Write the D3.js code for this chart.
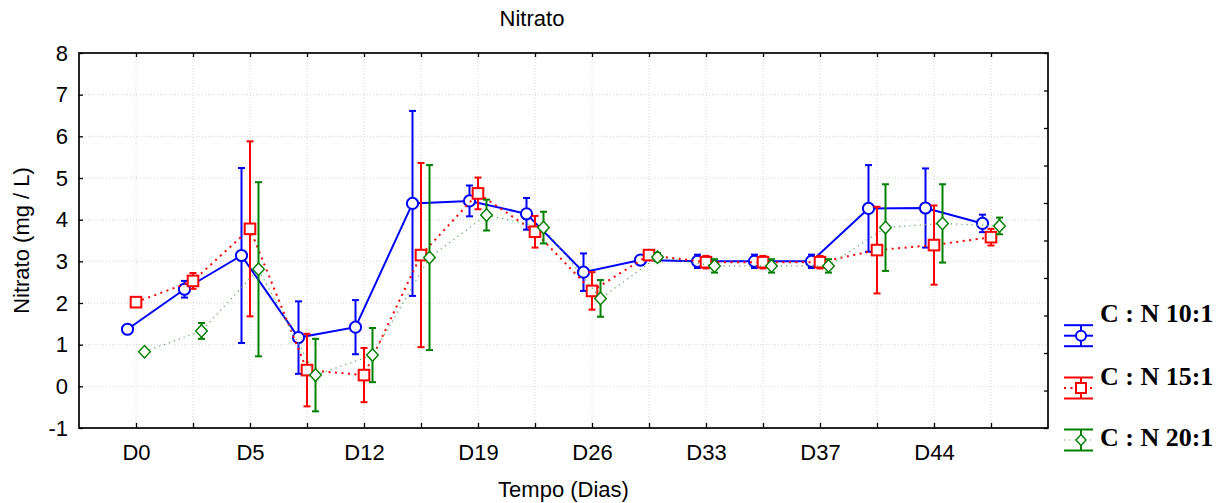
<!DOCTYPE html>
<html>
<head>
<meta charset="utf-8">
<script src="https://cdn.jsdelivr.net/npm/d3@7"></script>
<style>
  html, body { margin: 0; padding: 0; background: #fff; }
  svg { display: block; }
  text { font-family: "Liberation Sans", Arial, sans-serif; fill: #000; }
</style>
</head>
<body>
<svg id="chart" width="1229" height="503"></svg>
<script>
// Sampling days (16 points; every other one is labelled)
const dayLabels = ["D0", "", "D5", "", "D12", "", "D19", "", "D26", "", "D33", "", "D37", "", "D44", ""];

// Mean nitrate (mg / L) per treatment
const cn10 = [1.37, 2.33, 3.14, 1.17, 1.42, 4.39, 4.45, 4.14, 2.74, 3.03, 3.00, 3.00, 3.00, 4.27, 4.28, 3.91];
const cn15 = [2.02, 2.53, 3.78, 0.39, 0.27, 3.15, 4.63, 3.71, 2.29, 3.15, 2.98, 2.98, 2.98, 3.27, 3.39, 3.58];
const cn20 = [0.83, 1.33, 2.81, 0.27, 0.75, 3.09, 4.11, 3.81, 2.11, 3.10, 2.89, 2.89, 2.89, 3.81, 3.91, 3.85];

// Error bar half-widths
const cn10Err = [0, 0.20, 2.10, 0.87, 0.65, 2.22, 0.37, 0.38, 0.45, 0.10, 0.16, 0.16, 0.16, 1.04, 0.95, 0.21];
const cn15Err = [0, 0.19, 2.10, 0.87, 0.65, 2.21, 0.38, 0.38, 0.45, 0.10, 0.15, 0.15, 0.15, 1.04, 0.95, 0.20];
const cn20Err = [0, 0.19, 2.09, 0.87, 0.65, 2.22, 0.37, 0.38, 0.44, 0.10, 0.16, 0.16, 0.16, 1.04, 0.94, 0.20];

const yTicks = [-1, 0, 1, 2, 3, 4, 5, 6, 7, 8];

const series = [
  { name: "C : N 10:1", values: cn10, err: cn10Err, color: "#0000ff", shape: "circle", dx: -8.5,
    lineWidth: 2, dash: null, lineColor: "#0000ff" },
  { name: "C : N 15:1", values: cn15, err: cn15Err, color: "#ff0000", shape: "square", dx: 0,
    lineWidth: 2, dash: "2,4.5", lineColor: "#ff0000" },
  { name: "C : N 20:1", values: cn20, err: cn20Err, color: "#008000", shape: "diamond", dx: 8.5,
    lineWidth: 1.2, dash: "1.2,4", lineColor: "#55aa55" }
];

const FONT = '"Liberation Sans", Arial, sans-serif';
const FS = "22px";

const svg = d3.select("#chart");
const L = 79, R = 1048, T = 53, B = 428;

const x = d3.scaleLinear().domain([0, dayLabels.length + 1]).range([L, R]);
const y = d3.scaleLinear().domain([-1, 8]).range([B, T]);
const idx = d3.range(dayLabels.length);

// Grid
const grid = svg.append("g").attr("class", "grid");
grid.selectAll("line.gy").data(yTicks.filter(v => v > -1 && v < 8)).join("line")
  .attr("x1", L).attr("x2", R).attr("y1", d => y(d)).attr("y2", d => y(d))
  .attr("stroke", "#d4d4d4").attr("stroke-width", 1).attr("stroke-dasharray", "1,2");
grid.selectAll("line.gx").data(idx).join("line")
  .attr("x1", d => x(d + 1)).attr("x2", d => x(d + 1)).attr("y1", T).attr("y2", B)
  .attr("stroke", "#d4d4d4").attr("stroke-width", 1).attr("stroke-dasharray", "1,2");

// Axes (ticks point inward)
const xAxis = d3.axisBottom(x).tickValues(idx.map(i => i + 1))
  .tickFormat(d => dayLabels[d - 1]).tickSize(-5).tickPadding(16.5);
const gx = svg.append("g").attr("transform", `translate(0,${B})`).call(xAxis);
gx.select(".domain").remove();
gx.selectAll("text").style("font-size", FS).style("font-family", FONT);
gx.selectAll("line").attr("stroke", "#000").attr("stroke-width", 1.3);

const xTop = d3.axisTop(x).tickValues(idx.map(i => i + 1)).tickFormat("").tickSize(-4);
const gxt = svg.append("g").attr("transform", `translate(0,${T})`).call(xTop);
gxt.select(".domain").remove();
gxt.selectAll("line").attr("stroke", "#000").attr("stroke-width", 1.3);

const yAxis = d3.axisLeft(y).tickValues(yTicks).tickFormat(d => String(d)).tickSize(-4).tickPadding(11);
const gy = svg.append("g").attr("transform", `translate(${L},0)`).call(yAxis);
gy.select(".domain").remove();
gy.selectAll("text").style("font-size", FS).style("font-family", FONT);
gy.selectAll("line").attr("stroke", "#000").attr("stroke-width", 1.3);

// Right-hand frame ticks (ten equal divisions)
const yRight = d3.scaleLinear().domain([0, 10]).range([B, T]);
const gyr = svg.append("g").attr("transform", `translate(${R},0)`)
  .call(d3.axisRight(yRight).ticks(10).tickFormat("").tickSize(-4));
gyr.select(".domain").remove();
gyr.selectAll("line").attr("stroke", "#000").attr("stroke-width", 1.3);

// Frame
svg.append("rect").attr("x", L).attr("y", T).attr("width", R - L).attr("height", B - T)
  .attr("fill", "none").attr("stroke", "#000").attr("stroke-width", 1.7);

// Marker drawing helper
function marker(sel, shape, size, color, sw) {
  if (shape === "circle") {
    sel.append("circle").attr("r", size).attr("fill", "#fff").attr("stroke", color).attr("stroke-width", sw);
  } else if (shape === "square") {
    sel.append("rect").attr("x", -size).attr("y", -size).attr("width", size * 2).attr("height", size * 2)
      .attr("fill", "#fff").attr("stroke", color).attr("stroke-width", sw);
  } else {
    const w = size, h = size * 1.08;
    sel.append("path").attr("d", `M0,${-h}L${w},0L0,${h}L${-w},0Z`)
      .attr("fill", "#fff").attr("stroke", color).attr("stroke-width", sw);
  }
}

const plot = svg.append("g");
series.forEach(s => {
  const g = plot.append("g");
  const line = d3.line().x((d, i) => x(i + 1) + s.dx).y(d => y(d));
  g.append("path").datum(s.values).attr("d", line).attr("fill", "none")
    .attr("stroke", s.lineColor).attr("stroke-width", s.lineWidth)
    .attr("stroke-dasharray", s.dash).attr("stroke-linecap", s.dash ? "butt" : "round");

  const eb = g.selectAll("g.eb").data(s.values.map((v, i) => ({ v, e: s.err[i], i })).filter(d => d.e > 0))
    .join("g").attr("class", "eb");
  eb.append("line").attr("x1", d => x(d.i + 1) + s.dx).attr("x2", d => x(d.i + 1) + s.dx)
    .attr("y1", d => y(d.v + d.e)).attr("y2", d => y(d.v - d.e))
    .attr("stroke", s.color).attr("stroke-width", 2);
  [1, -1].forEach(sg => {
    eb.append("line").attr("x1", d => x(d.i + 1) + s.dx - 3.5).attr("x2", d => x(d.i + 1) + s.dx + 3.5)
      .attr("y1", d => y(d.v + sg * d.e)).attr("y2", d => y(d.v + sg * d.e))
      .attr("stroke", s.color).attr("stroke-width", 2);
  });

  s.values.forEach((v, i) => {
    const m = g.append("g").attr("transform", `translate(${x(i + 1) + s.dx},${y(v)})`);
    const size = s.shape === "circle" ? 5.6 : s.shape === "square" ? 5.3 : 5.8;
    marker(m, s.shape, size, s.color, s.shape === "diamond" ? 1.4 : 2);
  });
});

// Titles
svg.append("text").attr("x", 532).attr("y", 26).attr("text-anchor", "middle")
  .style("font-size", FS).text("Nitrato");
svg.append("text").attr("x", (L + R) / 2).attr("y", 497).attr("text-anchor", "middle")
  .style("font-size", FS).text("Tempo (Dias)");
svg.append("text").attr("transform", `translate(29,${(T + B) / 2}) rotate(-90)`).attr("text-anchor", "middle")
  .style("font-size", FS).text("Nitrato (mg / L)");

// Legend
const legendPos = [
  { mid: 335.7, half: 10.5, text: 322 },
  { mid: 388, half: 10.5, text: 384.5 },
  { mid: 440, half: 10.5, text: 446 }
];
series.forEach((s, k) => {
  const p = legendPos[k];
  const g = svg.append("g");
  const x0 = 1064, x1 = 1093, xm = 1081;
  g.append("line").attr("x1", x0).attr("x2", x1).attr("y1", p.mid - p.half).attr("y2", p.mid - p.half)
    .attr("stroke", s.color).attr("stroke-width", 2);
  g.append("line").attr("x1", x0).attr("x2", x1).attr("y1", p.mid + p.half).attr("y2", p.mid + p.half)
    .attr("stroke", s.color).attr("stroke-width", 2);
  g.append("line").attr("x1", xm).attr("x2", xm).attr("y1", p.mid - p.half).attr("y2", p.mid + p.half)
    .attr("stroke", s.color).attr("stroke-width", 2);
  g.append("line").attr("x1", x0).attr("x2", x1).attr("y1", p.mid).attr("y2", p.mid)
    .attr("stroke", s.lineColor).attr("stroke-width", s.lineWidth).attr("stroke-dasharray", s.dash);
  const m = g.append("g").attr("transform", `translate(${xm},${p.mid})`);
  marker(m, s.shape, s.shape === "diamond" ? 5 : 5, s.color, s.shape === "diamond" ? 1.4 : 2);
  g.append("text").attr("x", 1100).attr("y", p.text)
    .style("font-family", '"Liberation Serif", "Times New Roman", serif')
    .style("font-weight", "bold").style("font-size", "26px").text(s.name);
});
</script>
</body>
</html>
